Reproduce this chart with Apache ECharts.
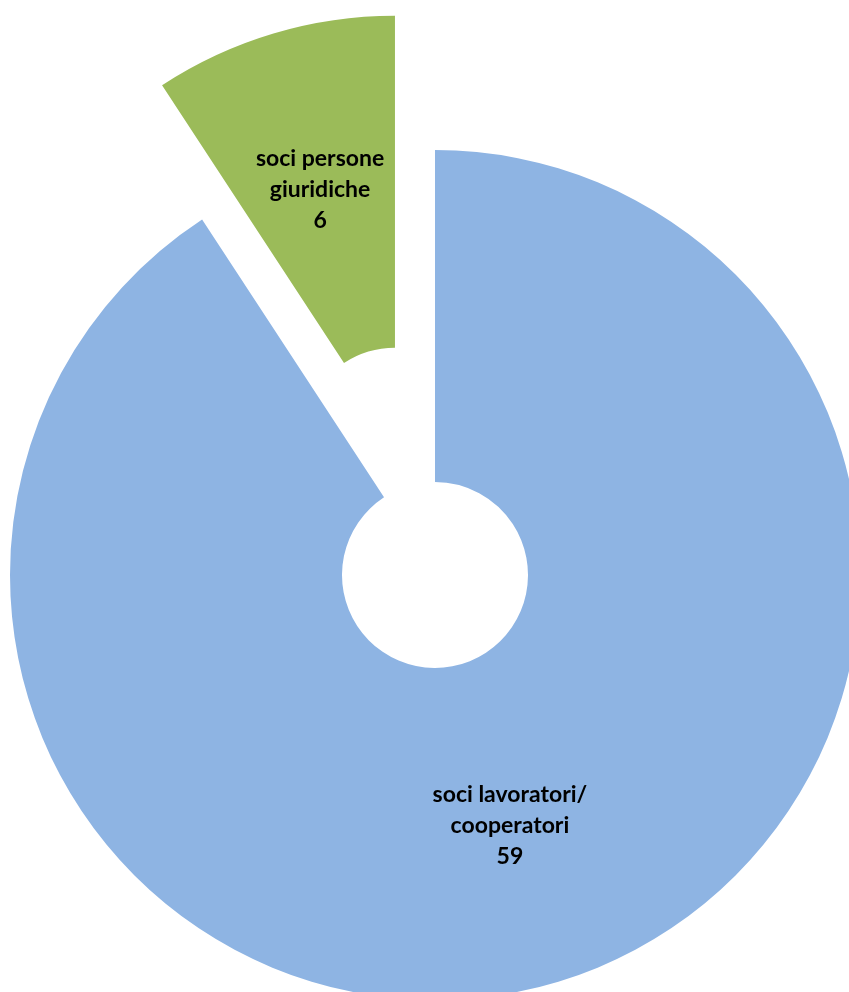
<!DOCTYPE html>
<html>
<head>
<meta charset="utf-8">
<script src="https://cdn.jsdelivr.net/npm/echarts@6/dist/echarts.min.js"></script>
<style>
  html, body { margin: 0; padding: 0; background: #fff; }
  #chart { width: 849px; height: 992px; }
</style>
</head>
<body>
<div id="chart"></div>
<script>
  // dati del grafico
  const categories = ['soci lavoratori/\ncooperatori', 'soci persone\ngiuridiche'];
  const values = [59, 6];
  const colors = ['#8EB4E3', '#9BBB59'];

  const chart = echarts.init(document.getElementById('chart'));
  chart.setOption({
    animation: false,
    series: [{
      type: 'pie',
      center: [435, 575],
      radius: [93, 425],
      startAngle: 90,
      clockwise: true,
      selectedMode: 'single',
      selectedOffset: 140,
      emphasis: { disabled: true },
      itemStyle: { borderWidth: 0 },
      label: {
        show: true,
        position: 'inside',
        formatter: '{b}\n{c}',
        color: '#000',
        fontFamily: 'Lato',
        fontWeight: 'bold',
        fontSize: 23,
        lineHeight: 31,
        align: 'center'
      },
      labelLine: { show: false },
      data: categories.map((name, i) => ({
        name: name,
        value: values[i],
        selected: i === 1,
        itemStyle: { color: colors[i] }
      }))
    }]
  });
</script>
</body>
</html>
